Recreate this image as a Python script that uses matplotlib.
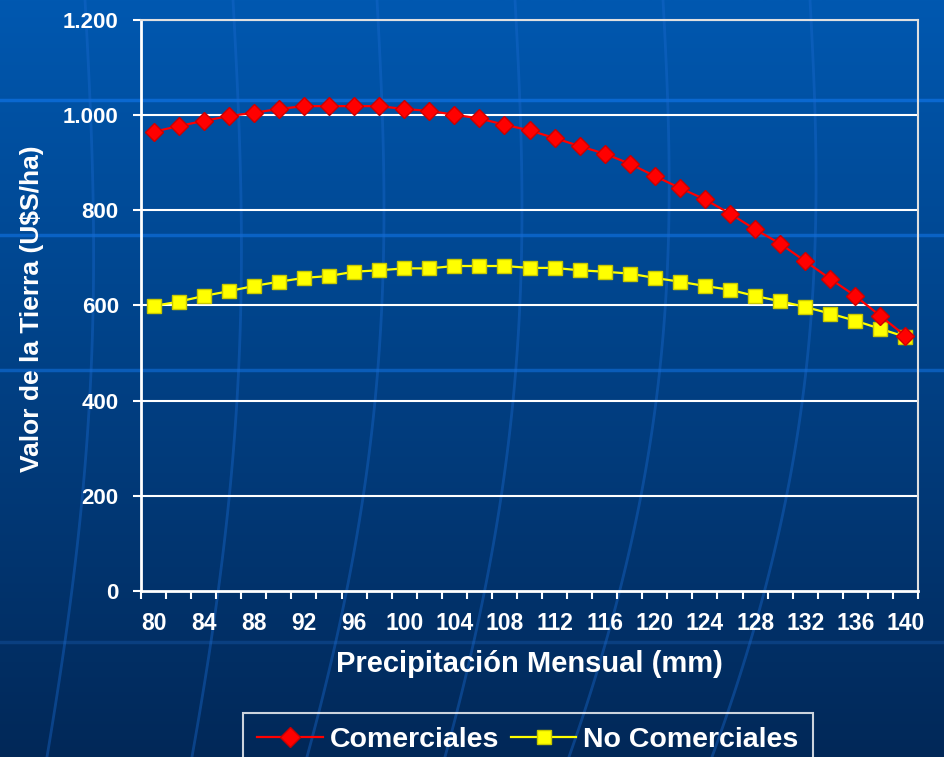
import matplotlib.pyplot as plt
import numpy as np
from matplotlib.lines import Line2D

# data
precip = list(range(80, 141, 2))
comerciales = [965, 977, 988, 998, 1005, 1013, 1019, 1019, 1019, 1019,
               1013, 1009, 1001, 993, 980, 968, 952, 935, 919, 898,
               872, 847, 823, 793, 760, 730, 693, 656, 620, 578, 536]
no_comerciales = [599, 608, 620, 630, 641, 650, 658, 662, 671, 674,
                  678, 678, 683, 683, 683, 679, 679, 674, 671, 667,
                  658, 650, 641, 633, 620, 609, 597, 583, 568, 551, 534]
y_ticks = [0, 200, 400, 600, 800, 1000, 1200]
y_labels = ['0', '200', '400', '600', '800', '1.000', '1.200']

plt.rcParams['font.family'] = ['Liberation Sans', 'DejaVu Sans']
plt.rcParams['font.weight'] = 'bold'

W, H = 944, 757
fig = plt.figure(figsize=(W / 100, H / 100), dpi=100)

# background gradient like the slide
bg = fig.add_axes([0, 0, 1, 1], zorder=-10)
top = np.array([0, 88, 176]) / 255
bot = np.array([2, 40, 88]) / 255
t = np.linspace(0, 1, 256)[:, None]
grad = top[None, :] * (1 - t) + bot[None, :] * t
bg.imshow(grad[:, None, :], aspect='auto', extent=[0, W, H, 0])
# horizontal stripes
for yy, c in [(100, '#0a68d0'), (235, '#0a62c4'), (370, '#0a5cb8'), (642, '#0a3f80')]:
    bg.plot([0, W], [yy, yy], color=c, lw=2.5)
# faint curved lines
ys = np.linspace(0, H, 100)
for x0, x1 in [(85, 50), (233, 195), (377, 310), (515, 448), (663, 572), (810, 715)]:
    xs = x0 + 12 * np.sin(np.pi * ys / 700) - (x0 - x1) * (ys / H) ** 2.5
    bg.plot(xs, ys, color='#1a6ad0', lw=2, alpha=0.4)
bg.set_xlim(0, W)
bg.set_ylim(H, 0)
bg.axis('off')

ax = fig.add_axes([141 / W, 1 - 591 / H, (918 - 141) / W, (591 - 20) / H])
ax.patch.set_alpha(0)

idx = np.arange(len(precip))
ax.plot(idx, comerciales, color='#ff0000', lw=1.6, marker='D', markersize=9.5,
        markerfacecolor='#ff0000', markeredgecolor='#cc0000', label='Comerciales', zorder=4)
ax.plot(idx, no_comerciales, color='#ffff00', lw=1.6, marker='s', markersize=9.5,
        markerfacecolor='#ffff00', markeredgecolor='#c8c800', label='No Comerciales', zorder=3)

ax.set_xlim(-0.5, len(precip) - 0.5)
ax.set_ylim(0, 1200)
ax.set_yticks(y_ticks)
ax.set_yticklabels(y_labels)
for v in y_ticks[1:]:
    ax.axhline(v, color='white', lw=1.5, zorder=1)

ax.set_xticks(np.arange(-0.5, len(precip), 1))
ax.set_xticklabels([])
ax.set_xticks(idx[::2], minor=True)
ax.set_xticklabels([str(p) for p in precip[::2]], minor=True)

ax.tick_params(axis='x', which='major', length=6, width=1.5, color='white', direction='out')
ax.tick_params(axis='x', which='minor', length=0, pad=15, labelsize=16.5, labelcolor='white')
ax.tick_params(axis='y', length=6, width=1.5, color='white', pad=10, labelsize=16,
               labelcolor='white')
for lab in ax.get_xticklabels(minor=True) + ax.get_yticklabels():
    lab.set_fontweight('bold')

for s in ['left', 'bottom']:
    ax.spines[s].set_color('white')
    ax.spines[s].set_linewidth(2)
for s in ['top', 'right']:
    ax.spines[s].set_color('#e0e0e0')
    ax.spines[s].set_linewidth(1.5)

fig.text(529 / W, 1 - 664 / H, 'Precipitación Mensual (mm)', color='white',
         fontsize=21, fontweight='bold', ha='center', va='center')
fig.text(32 / W, 1 - 309 / H, 'Valor de la Tierra (U$S/ha)', color='white',
         fontsize=19, fontweight='bold', ha='center', va='center', rotation=90)

handles = [Line2D([], [], color='#ff0000', lw=1.6, marker='D', markersize=10,
                  markeredgecolor='#cc0000'),
           Line2D([], [], color='#ffff00', lw=1.6, marker='s', markersize=10,
                  markeredgecolor='#c8c800')]
leg = fig.legend(handles, ['Comerciales', 'No Comerciales'], loc='upper center',
                 bbox_to_anchor=(528 / W, 1 - 713 / H), ncol=2, frameon=True,
                 fancybox=False, fontsize=20.5, handlelength=2.3, handletextpad=0.25,
                 columnspacing=0.4, borderpad=0.5, borderaxespad=0)
leg.get_frame().set_facecolor('none')
leg.get_frame().set_edgecolor('white')
leg.get_frame().set_linewidth(1.5)
for txt in leg.get_texts():
    txt.set_color('white')
    txt.set_fontweight('bold')

fig.savefig('out.png', dpi=100)
